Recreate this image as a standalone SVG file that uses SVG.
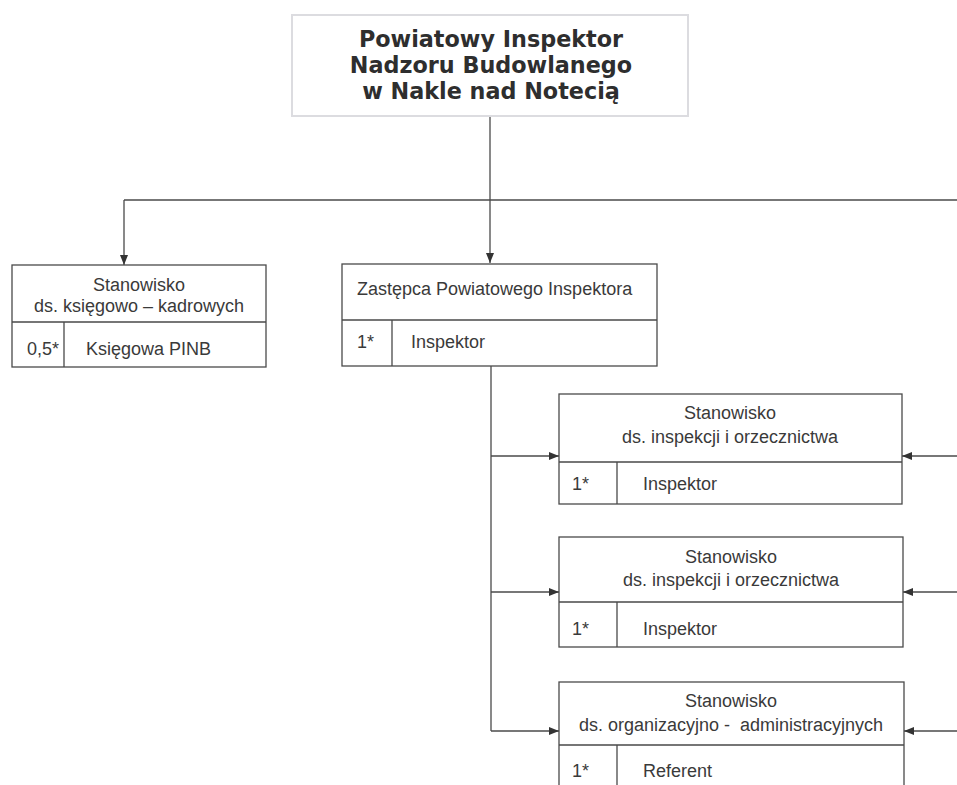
<svg xmlns="http://www.w3.org/2000/svg" width="957" height="785" viewBox="0 0 957 785">
<style>
.bx{fill:#fff;stroke:#4a4a4a;stroke-width:1.3}
.ln{fill:none;stroke:#4a4a4a;stroke-width:1.3}
.t{font-family:"Liberation Sans",Arial,sans-serif;font-size:18px;fill:#3a3a3a}
.c{text-anchor:middle}
.h{font-family:"DejaVu Sans",Verdana,sans-serif;font-weight:bold;font-size:22.3px;fill:#2e2e2e;text-anchor:middle}
.conn{fill:none;stroke:#4a4a4a;stroke-width:1.3}
</style>
<defs>
<marker id="ah" viewBox="0 0 10 8" refX="10" refY="4" markerWidth="10" markerHeight="8" markerUnits="userSpaceOnUse" orient="auto">
<path d="M0,0 L10,4 L0,8 Z" fill="#333"/>
</marker>
</defs>
<rect width="957" height="785" fill="#fff"/>
<g id="connectors">
<path class="conn" d="M490,115 V200"/>
<path class="conn" d="M124,200 H957"/>
<path class="conn" d="M124,200 V265" marker-end="url(#ah)"/>
<path class="conn" d="M490,200 V263" marker-end="url(#ah)"/>
<path class="conn" d="M491,366 V731"/>
<path class="conn" d="M491,456 H559" marker-end="url(#ah)"/>
<path class="conn" d="M491,592 H559" marker-end="url(#ah)"/>
<path class="conn" d="M491,731 H559" marker-end="url(#ah)"/>
<path class="conn" d="M957,456 H902" marker-end="url(#ah)"/>
<path class="conn" d="M957,592 H903" marker-end="url(#ah)"/>
<path class="conn" d="M957,731 H904" marker-end="url(#ah)"/>
</g>
<g id="pinb">
<rect x="292" y="15" width="396" height="101" fill="#fff" stroke="#dcdce0" stroke-width="2"/>
<text class="h" x="491" y="47">Powiatowy Inspektor</text>
<text class="h" x="491" y="73">Nadzoru Budowlanego</text>
<text class="h" x="491" y="99">w Nakle nad Notecią</text>
</g>
<g id="ksiegowa">
<rect class="bx" x="12" y="265" width="254" height="102"/>
<path class="ln" d="M12,322 H266 M64,322 V367"/>
<text class="t c" x="139" y="291">Stanowisko</text>
<text class="t c" x="139" y="312">ds. księgowo – kadrowych</text>
<text class="t" x="27" y="355">0,5*</text>
<text class="t" x="86" y="355">Księgowa PINB</text>
</g>
<g id="zastepca">
<rect class="bx" x="342" y="264" width="315" height="102"/>
<path class="ln" d="M342,320 H657 M392,320 V366"/>
<text class="t" x="357" y="295">Zastępca Powiatowego Inspektora</text>
<text class="t" x="357" y="348">1*</text>
<text class="t" x="411" y="348">Inspektor</text>
</g>
<g id="inspekcja1">
<rect class="bx" x="559" y="394" width="343" height="110"/>
<path class="ln" d="M559,462 H902 M617,462 V504"/>
<text class="t c" x="730" y="419">Stanowisko</text>
<text class="t c" x="730" y="443">ds. inspekcji i orzecznictwa</text>
<text class="t" x="572" y="490">1*</text>
<text class="t" x="643" y="490">Inspektor</text>
</g>
<g id="inspekcja2">
<rect class="bx" x="559" y="537" width="344" height="110"/>
<path class="ln" d="M559,602 H903 M617,602 V647"/>
<text class="t c" x="731" y="563">Stanowisko</text>
<text class="t c" x="731" y="586">ds. inspekcji i orzecznictwa</text>
<text class="t" x="572" y="635">1*</text>
<text class="t" x="643" y="635">Inspektor</text>
</g>
<g id="organizacja">
<rect class="bx" x="559" y="682" width="345" height="130"/>
<path class="ln" d="M559,745 H904 M617,745 V812"/>
<text class="t c" x="731" y="707">Stanowisko</text>
<text class="t c" x="731" y="731" xml:space="preserve">ds. organizacyjno -  administracyjnych</text>
<text class="t" x="572" y="777">1*</text>
<text class="t" x="643" y="777">Referent</text>
</g>
</svg>
